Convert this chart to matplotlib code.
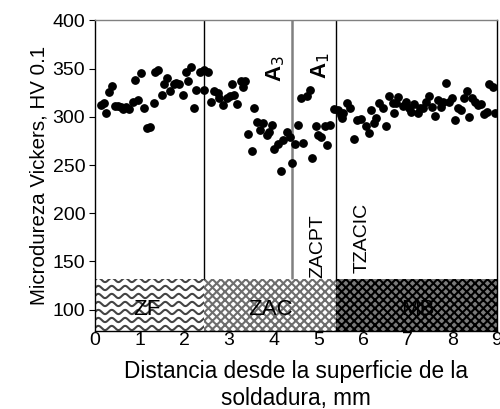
import matplotlib.pyplot as plt
import numpy as np
from matplotlib.patches import Rectangle

plt.rcParams['font.family'] = ['Liberation Sans', 'DejaVu Sans']
plt.rcParams['hatch.linewidth'] = 1.5

# perfil de microdureza (distancia mm, HV 0.1)
dist = [0.14, 0.20, 0.25, 0.32, 0.38, 0.45, 0.52, 0.59, 0.63, 0.70, 0.77, 0.86, 0.97, 0.90, 1.04,
        1.10, 1.17, 1.24, 1.31, 1.35, 1.42, 1.49, 1.55, 1.62, 1.69, 1.76, 1.82, 1.89, 1.96, 2.03,
        2.14, 2.09, 2.21, 2.27, 2.34, 2.43, 2.52, 2.45, 2.59, 2.66, 2.75, 2.77, 2.86, 2.95, 3.02,
        3.11, 3.06, 3.18, 3.27, 3.36, 3.31, 3.56, 3.63, 3.69, 3.76, 3.96, 3.85, 3.90, 3.42, 3.51,
        4.01, 4.10, 4.21, 4.30, 4.37, 4.48, 4.55, 4.66, 4.62, 4.17, 4.41, 4.75, 4.82, 4.86, 4.95,
        5.00, 5.07, 5.14, 5.25, 5.20, 5.34, 5.43, 5.50, 5.56, 5.54, 5.65, 5.72, 5.79, 5.86, 5.95,
        6.06, 6.13, 6.19, 6.28, 6.24, 6.35, 6.44, 6.51, 6.58, 6.67, 6.69, 6.78, 6.74, 6.89, 6.96,
        7.03, 7.07, 7.14, 7.23, 7.27, 7.34, 7.41, 7.48, 7.55, 7.61, 7.68, 7.75, 7.79, 7.86, 7.93,
        8.00, 8.06, 8.13, 8.20, 8.27, 8.33, 8.38, 8.45, 8.51, 8.58, 8.65, 8.72, 8.78, 8.83, 8.92,
        8.96]
dureza = [312, 314, 304, 326, 332, 311, 311, 310, 308, 310, 308, 315, 317, 338, 345,
          309, 288, 289, 314, 347, 349, 323, 334, 340, 327, 334, 335, 334, 323, 347,
          352, 337, 309, 328, 347, 349, 347, 328, 315, 327, 325, 320, 312, 320, 322,
          323, 334, 313, 337, 337, 331, 309, 295, 286, 294, 292, 281, 284, 282, 265,
          267, 272, 276, 284, 279, 272, 292, 273, 320, 244, 252, 322, 328, 257, 290,
          281, 279, 290, 292, 271, 308, 307, 302, 304, 299, 314, 309, 277, 297, 298,
          290, 283, 307, 299, 294, 314, 309, 290, 322, 314, 304, 321, 314, 311, 315,
          309, 305, 313, 304, 309, 309, 315, 322, 310, 301, 317, 310, 315, 335, 315,
          320, 297, 309, 307, 320, 327, 300, 320, 315, 312, 313, 303, 305, 334, 331,
          304]

limites = [2.45, 4.4, 5.4]
zonas = ['ZF', 'ZAC', 'MB']
zonas_x = [1.17, 3.92, 7.23]

fig = plt.figure(figsize=(5, 4.09), dpi=100)
ax = fig.add_axes([0.19, 0.191, 0.804, 0.759])

ymin, ymax = 78, 400
banda = 132
ax.set_xlim(0, 9)
ax.set_ylim(ymin, ymax)

# franja inferior con las tramas de cada zona
r_zf = Rectangle((0, ymin), limites[0], banda - ymin, facecolor='white', edgecolor='none', zorder=1)
ax.add_patch(r_zf)
xw = np.linspace(0, limites[0], 400)
for yy in np.arange(ymin + 3, banda, 8.3):
    ln, = ax.plot(xw, yy + 2.2 * np.sin(2 * np.pi * xw / 0.3), color='#444444', lw=1.5, zorder=2)
    ln.set_clip_path(r_zf)
ax.add_patch(Rectangle((limites[0], ymin), limites[2] - limites[0], banda - ymin,
                       facecolor='white', edgecolor='#6e6e6e', hatch='xxxx', lw=0, zorder=1))
ax.add_patch(Rectangle((limites[2], ymin), 9 - limites[2], banda - ymin,
                       facecolor='#7a7a7a', edgecolor='black', hatch='xxxx', lw=0, zorder=1))

ax.vlines([limites[0], limites[2]], banda, ymax, colors='black', lw=1, zorder=2)
ax.vlines(limites[1], banda, ymax, colors='#808080', lw=1.8, zorder=2)

ax.scatter(dist, dureza, s=28, color='black', zorder=3)

for z, zx in zip(zonas, zonas_x):
    ax.text(zx, 100, z, fontsize=16, ha='center', va='center', zorder=4)

ax.text(4.05, 350, 'A$_3$', fontsize=16, fontweight='bold', rotation=90, ha='center', va='center')
ax.text(5.05, 353, 'A$_1$', fontsize=16, fontweight='bold', rotation=90, ha='center', va='center')
ax.text(4.98, 133, 'ZACPT', fontsize=14, rotation=90, ha='center', va='bottom')
ax.text(5.97, 138, 'TZACIC', fontsize=14, rotation=90, ha='center', va='bottom')

ax.set_yticks([100, 150, 200, 250, 300, 350, 400])
ax.set_xticks(range(10))
ax.tick_params(axis='y', direction='out', length=4, labelsize=14, pad=3)
ax.tick_params(axis='x', length=0, labelsize=14, pad=1)
for s in ax.spines.values():
    s.set_linewidth(1)
ax.spines['top'].set_color('#808080')

ax.set_ylabel('Microdureza Vickers, HV 0.1', fontsize=14.8, labelpad=3)
ax.set_xlabel('Distancia desde la superficie de la\nsoldadura, mm', fontsize=16.3, labelpad=8)

fig.savefig('out.png', dpi=100)
